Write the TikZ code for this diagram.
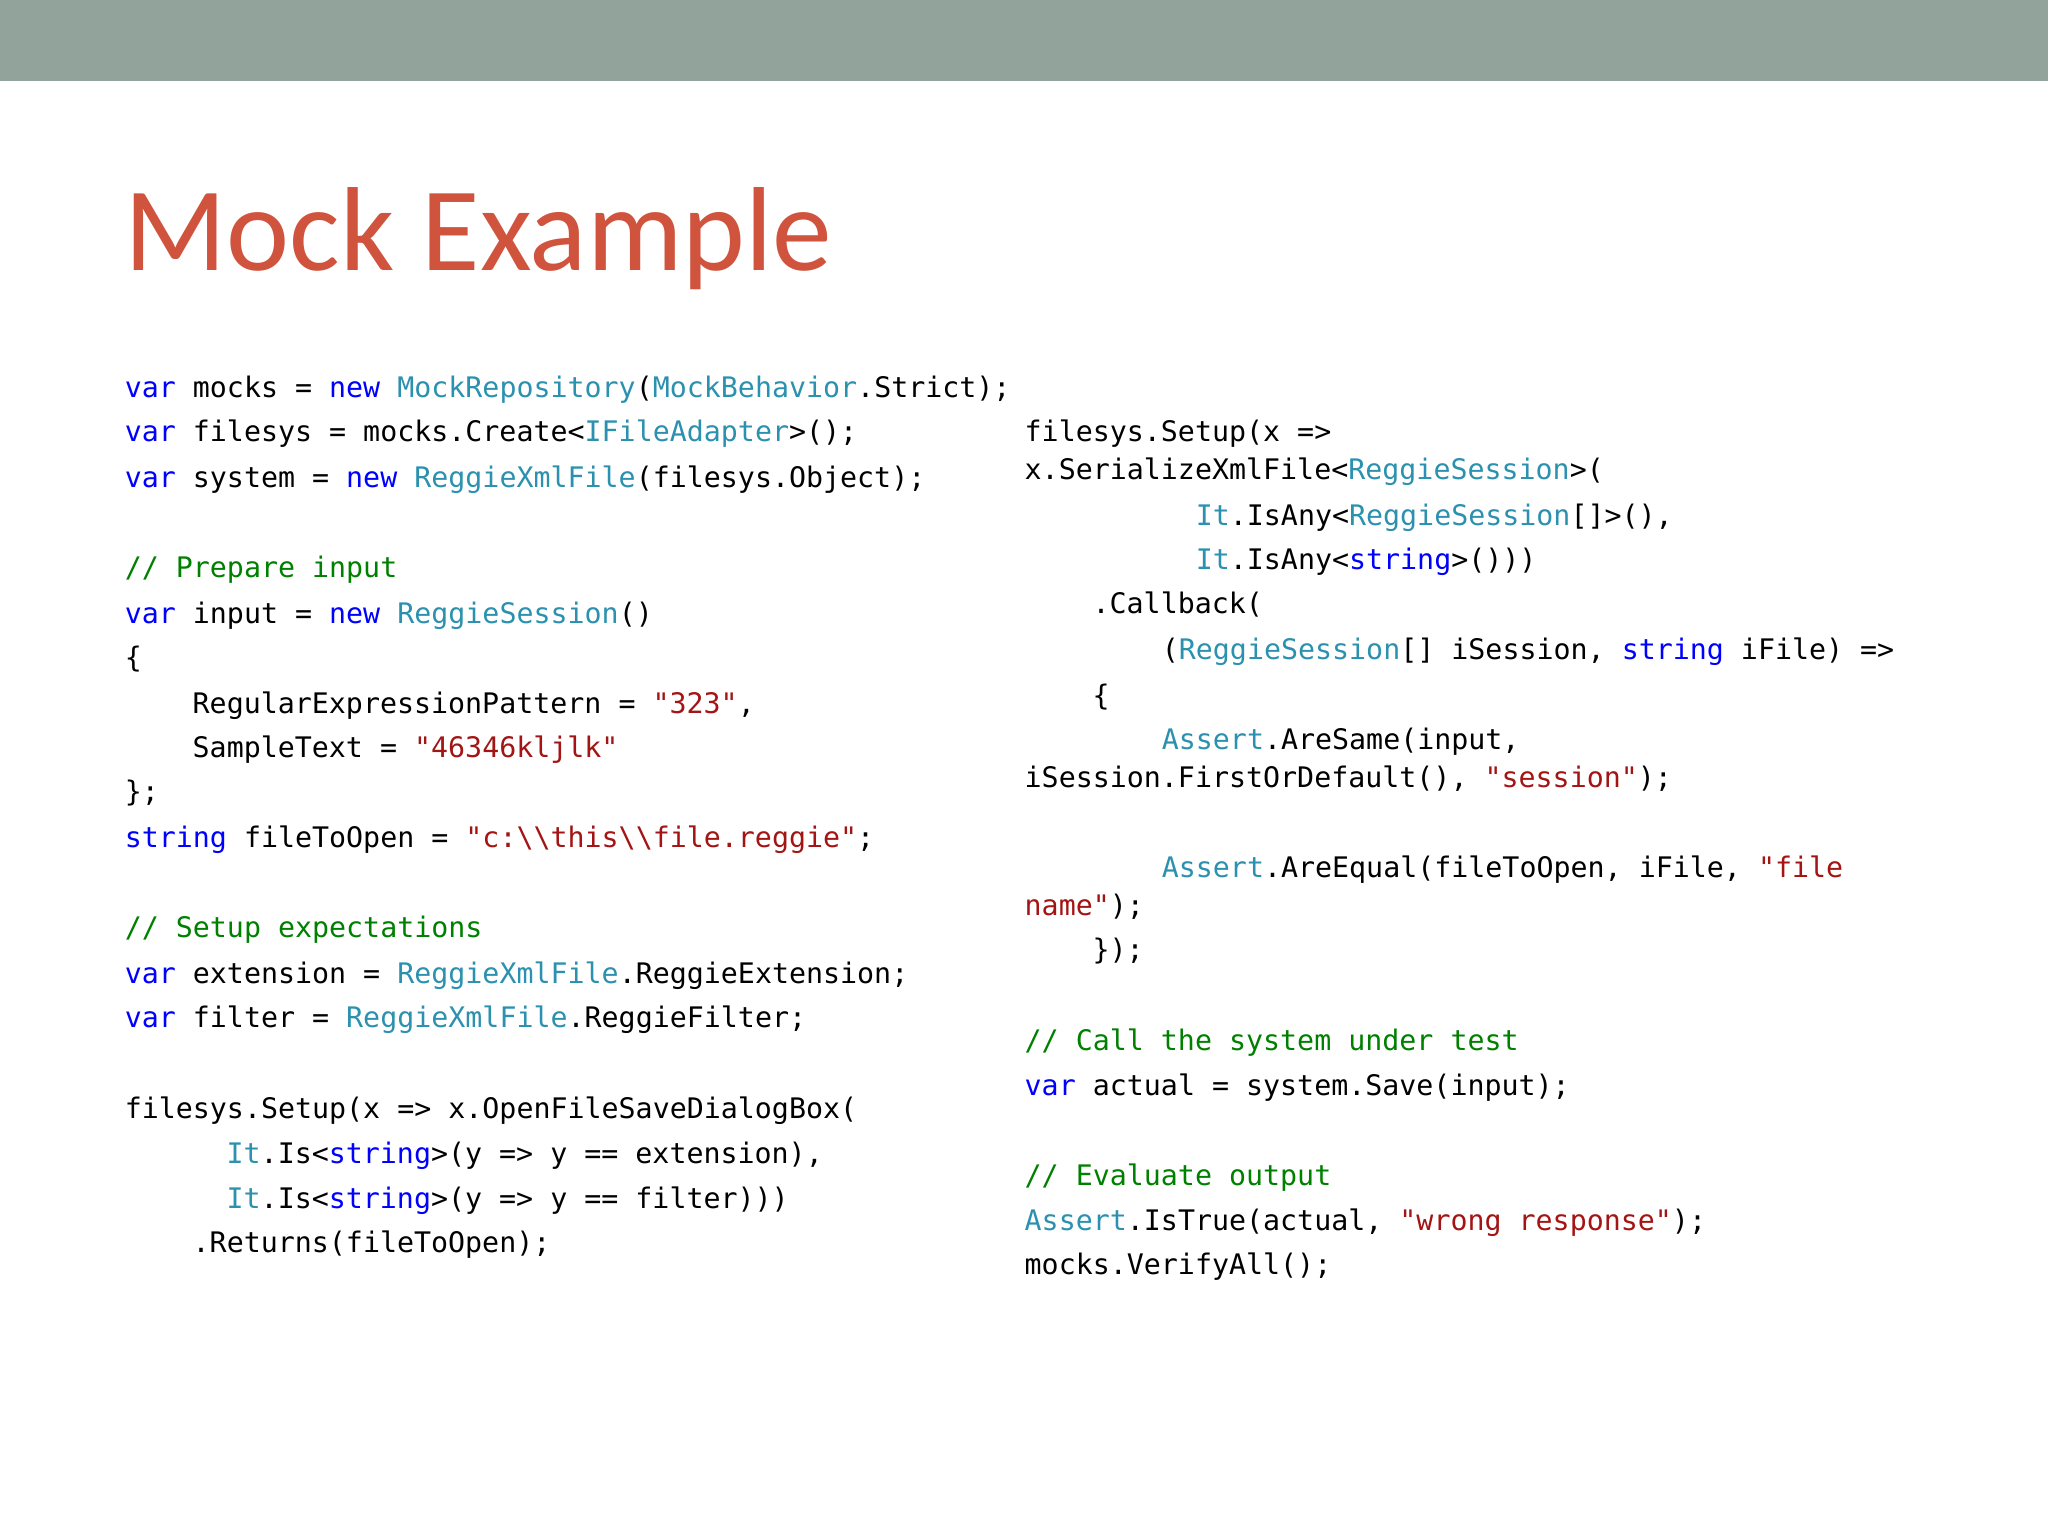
\documentclass[tikz,border=0pt]{standalone}
\usepackage{fontspec}
\newfontfamily\codefont{DejaVu Sans Mono}
\newfontfamily\titlefont{Carlito}
\definecolor{barc}{HTML}{91A39A}
\definecolor{titlec}{HTML}{D0533D}
\definecolor{kwc}{HTML}{0000FF}
\definecolor{tyc}{HTML}{2B91AF}
\definecolor{stc}{HTML}{A31515}
\definecolor{cmc}{HTML}{008000}
\newcommand\kw[1]{\textcolor{kwc}{#1}}
\newcommand\ty[1]{\textcolor{tyc}{#1}}
\newcommand\st[1]{\textcolor{stc}{#1}}
\newcommand\cmt[1]{\textcolor{cmc}{#1}}
\begin{document}
\begin{tikzpicture}[x=0.01306cm,y=-0.01306cm,
  code/.style={anchor=base west,inner sep=0pt,font=\codefont\fontsize{8.05pt}{9pt}\selectfont}]
\useasboundingbox (0,0) rectangle (1568,1176);
\fill[barc] (0,0) rectangle (1568,62);
\node[anchor=base west,inner sep=0pt,text=titlec,font=\titlefont\fontsize{34pt}{40pt}\selectfont] (title) at (95,207) {Mock Example};
% left column
\def\L{95}
\node[code] (l1) at (\L,304) {\kw{var} mocks = \kw{new} \ty{MockRepository}(\ty{MockBehavior}.Strict);};
\node[code] (l2) at (\L,338) {\kw{var} filesys = mocks.Create<\ty{IFileAdapter}>();};
\node[code] (l3) at (\L,373) {\kw{var} system = \kw{new} \ty{ReggieXmlFile}(filesys.Object);};
\node[code] (l4) at (\L,442) {\cmt{// Prepare input}};
\node[code] (l5) at (\L,477) {\kw{var} input = \kw{new} \ty{ReggieSession}()};
\node[code] (l6) at (\L,511) {\{};
\node[code] (l7) at (147,546) {RegularExpressionPattern = \st{"323"},};
\node[code] (l8) at (147,580) {SampleText = \st{"46346kljlk"}};
\node[code] (l9) at (\L,614) {\};};
\node[code] (l10) at (\L,649) {\kw{string} fileToOpen = \st{"c:\textbackslash\textbackslash this\textbackslash\textbackslash file.reggie"};};
\node[code] (l11) at (\L,718) {\cmt{// Setup expectations}};
\node[code] (l12) at (\L,753) {\kw{var} extension = \ty{ReggieXmlFile}.ReggieExtension;};
\node[code] (l13) at (\L,787) {\kw{var} filter = \ty{ReggieXmlFile}.ReggieFilter;};
\node[code] (l14) at (\L,856) {filesys.Setup(x => x.OpenFileSaveDialogBox(};
\node[code] (l15) at (173,891) {\ty{It}.Is<\kw{string}>(y => y == extension),};
\node[code] (l16) at (173,925) {\ty{It}.Is<\kw{string}>(y => y == filter)))};
\node[code] (l17) at (147,959) {.Returns(fileToOpen);};
% right column
\def\R{784}
\node[code] (r1) at (\R,338) {filesys.Setup(x =>};
\node[code] (r2) at (\R,367) {x.SerializeXmlFile<\ty{ReggieSession}>(};
\node[code] (r3) at (915,402) {\ty{It}.IsAny<\ty{ReggieSession}[]>(),};
\node[code] (r4) at (915,436) {\ty{It}.IsAny<\kw{string}>()))};
\node[code] (r5) at (836,470) {.Callback(};
\node[code] (r6) at (889,505) {(\ty{ReggieSession}[] iSession, \kw{string} iFile) =>};
\node[code] (r7) at (836,540) {\{};
\node[code] (r8) at (889,574) {\ty{Assert}.AreSame(input,};
\node[code] (r9) at (\R,603) {iSession.FirstOrDefault(), \st{"session"});};
\node[code] (r10) at (889,672) {\ty{Assert}.AreEqual(fileToOpen, iFile, \st{"file}};
\node[code] (r11) at (\R,701) {\st{name"});};
\node[code] (r12) at (836,735) {\});};
\node[code] (r13) at (\R,804) {\cmt{// Call the system under test}};
\node[code] (r14) at (\R,839) {\kw{var} actual = system.Save(input);};
\node[code] (r15) at (\R,908) {\cmt{// Evaluate output}};
\node[code] (r16) at (\R,942) {\ty{Assert}.IsTrue(actual, \st{"wrong response"});};
\node[code] (r17) at (\R,976) {mocks.VerifyAll();};
\end{tikzpicture}
\end{document}
